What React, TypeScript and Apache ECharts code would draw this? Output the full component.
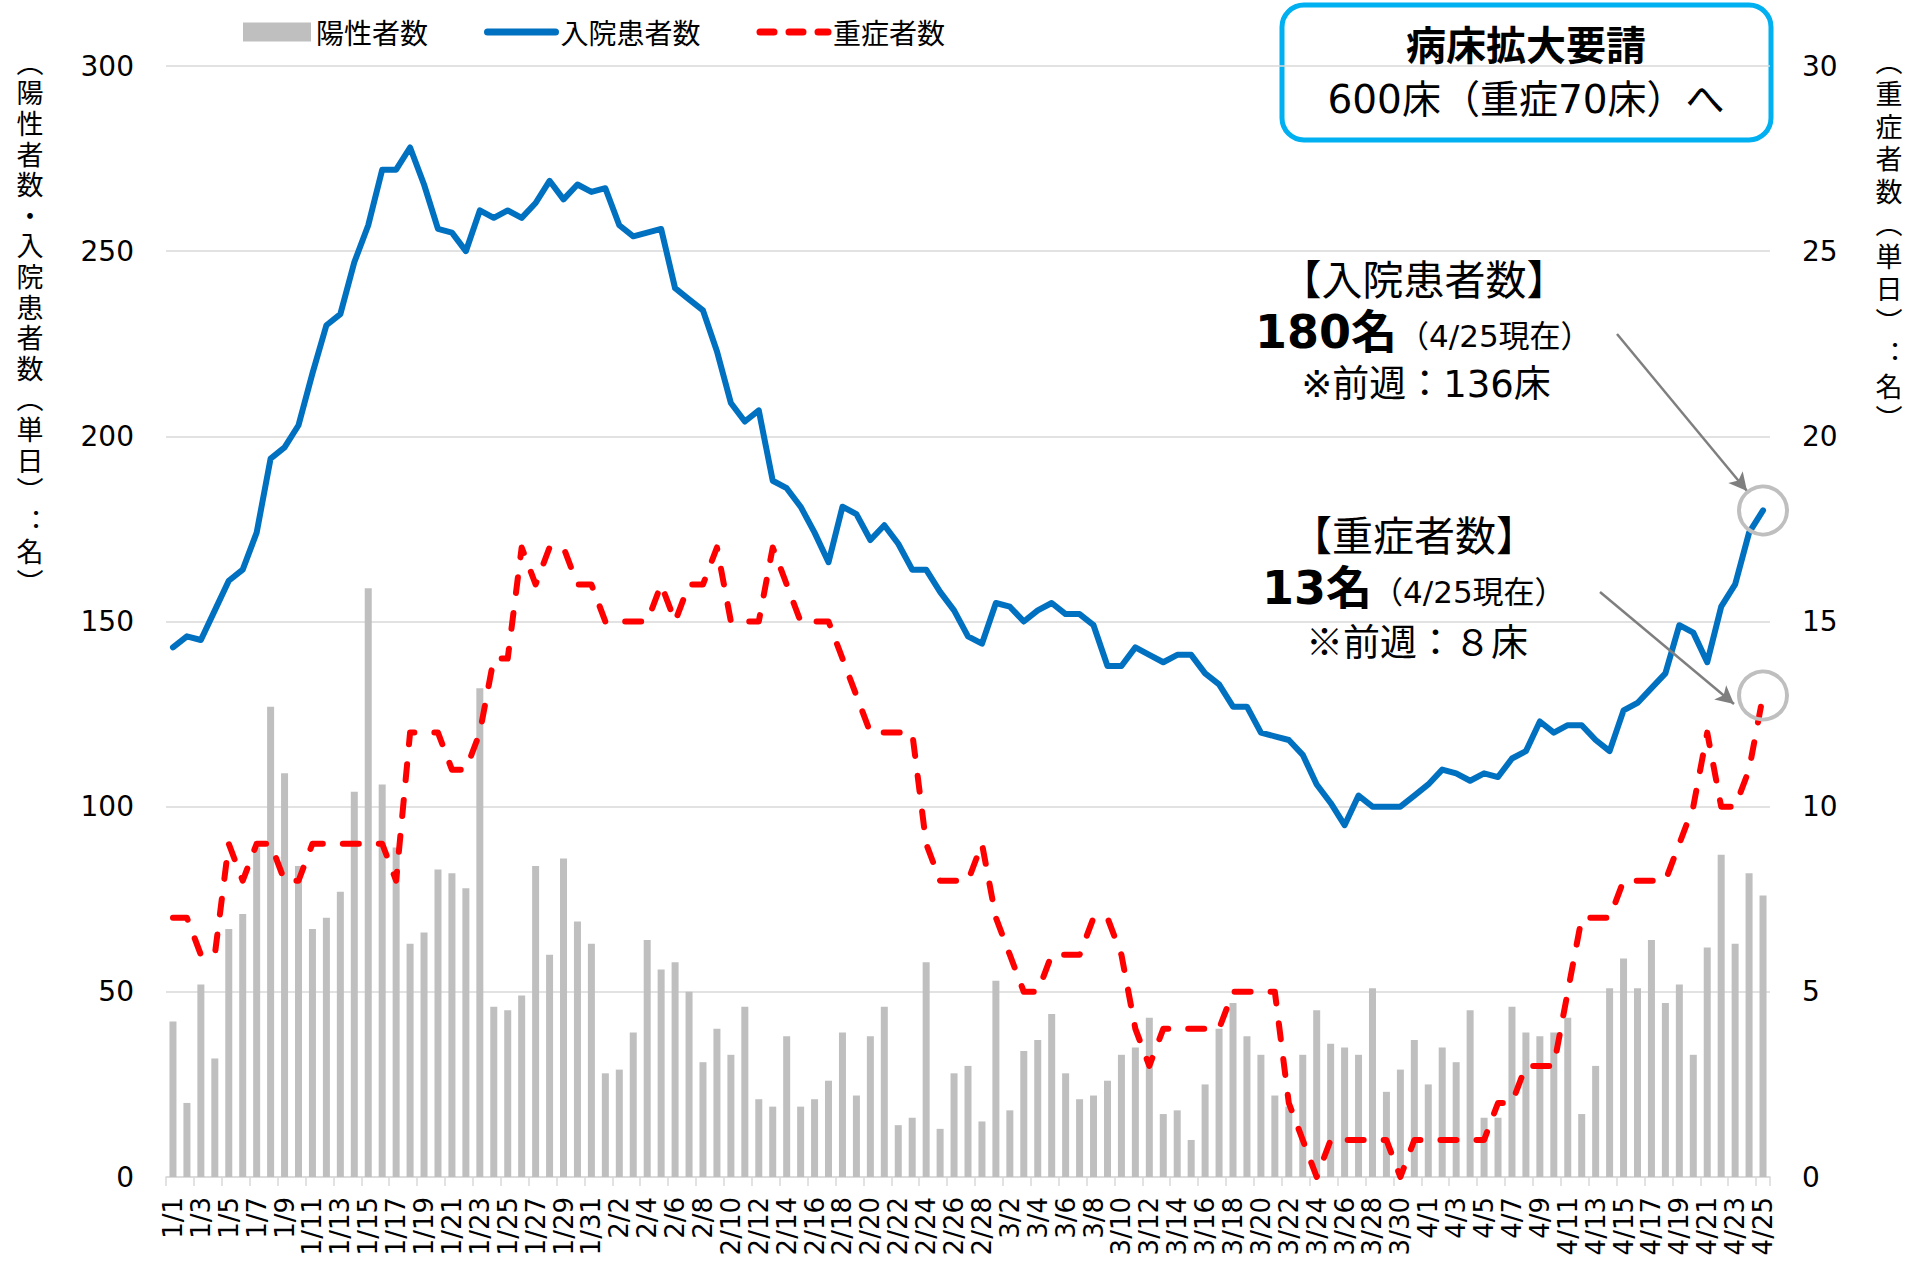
import React, { useEffect, useRef } from "react";
import * as echarts from "echarts";

const monthLengths: [number, number][] = [
  [1, 31],
  [2, 28],
  [3, 31],
  [4, 25],
];
const categories: string[] = [];
monthLengths.forEach(([m, n]) => {
  for (let d = 1; d <= n; d++) categories.push(`${m}/${d}`);
});

// 陽性者数 (daily positives)
const positives = [
  42, 20, 52, 32, 67, 71, 89, 127, 109, 84, 67, 70, 77, 104, 159, 106, 89, 63, 66, 83, 82, 78, 132, 46, 45, 49, 84, 60, 86, 69, 63,
  28, 29, 39, 64, 56, 58, 50, 31, 40, 33, 46, 21, 19, 38, 19, 21, 26, 39, 22, 38, 46, 14, 16, 58, 13, 28, 30, 15,
  53, 18, 34, 37, 44, 28, 21, 22, 26, 33, 35, 43, 17, 18, 10, 25, 40, 47, 38, 33, 22, 19, 33, 45, 36, 35, 33, 51, 23, 29, 37,
  25, 35, 31, 45, 16, 16, 46, 39, 38, 39, 43, 17, 30, 51, 59, 51, 64, 47, 52, 33, 62, 87, 63, 82, 76,
];

// 入院患者数 (hospitalized)
const hospitalized = [
  143, 146, 145, 153, 161, 164, 174, 194, 197, 203, 217, 230, 233, 247, 257, 272, 272, 278, 268, 256, 255, 250, 261, 259, 261, 259, 263, 269, 264, 268, 266,
  267, 257, 254, 255, 256, 240, 237, 234, 223, 209, 204, 207, 188, 186, 181, 174, 166, 181, 179, 172, 176, 171, 164, 164, 158, 153, 146, 144,
  155, 154, 150, 153, 155, 152, 152, 149, 138, 138, 143, 141, 139, 141, 141, 136, 133, 127, 127, 120, 119, 118, 114, 106, 101, 95, 103, 100, 100, 100, 103,
  106, 110, 109, 107, 109, 108, 113, 115, 123, 120, 122, 122, 118, 115, 126, 128, 132, 136, 149, 147, 139, 154, 160, 174, 180,
];

// 重症者数 (severe)
const severe = [
  7, 7, 6, 6, 9, 8, 9, 9, 8, 8, 9, 9, 9, 9, 9, 9, 8, 12, 12, 12, 11, 11, 12, 14, 14, 17, 16, 17, 17, 16, 16,
  15, 15, 15, 15, 16, 15, 16, 16, 17, 15, 15, 15, 17, 16, 15, 15, 15, 14, 13, 12, 12, 12, 12, 9, 8, 8, 8, 9,
  7, 6, 5, 5, 6, 6, 6, 7, 7, 6, 4, 3, 4, 4, 4, 4, 4, 5, 5, 5, 5, 2, 1, 0, 1, 1, 1, 1, 1, 0, 1,
  1, 1, 1, 1, 1, 2, 2, 3, 3, 3, 5, 7, 7, 7, 8, 8, 8, 8, 9, 10, 12, 10, 10, 11, 13,
];

const leftTicks = { min: 0, max: 300, interval: 50 };
const rightTicks = { min: 0, max: 30, interval: 5 };

const leftTitle = "︵陽性者数・入院患者数︵単日︶︓名︶";
const rightTitle = "︵重症者数︵単日︶︓名︶";

const JP = "'Noto Sans CJK JP'";
const MIX = "'DejaVu Sans', 'Noto Sans CJK JP'";

export default function App() {
  const ref = useRef<HTMLDivElement>(null);

  useEffect(() => {
    if (!ref.current) return;
    const chart = echarts.init(ref.current, null, { renderer: "svg" });
    const last = categories[categories.length - 1];

    const option: any = {
      animation: false,
      backgroundColor: "#ffffff",
      textStyle: { fontFamily: MIX },
      grid: { left: 166, right: 137, top: 66, bottom: 92 },
      legend: {
        left: 238,
        top: 13,
        itemWidth: 68,
        itemHeight: 19,
        itemGap: 56,
        textStyle: { fontSize: 28, fontFamily: JP, color: "#000" },
        data: [
          { name: "陽性者数", icon: "rect" },
          {
            name: "入院患者数",
            itemStyle: { opacity: 0 },
            lineStyle: { width: 7, color: "#0070C0", cap: "round" },
          },
          {
            name: "重症者数",
            itemStyle: { opacity: 0 },
            lineStyle: { width: 7, color: "#FF0000", type: [14, 15], cap: "round" },
          },
        ],
      },
      xAxis: {
        type: "category",
        data: categories,
        boundaryGap: true,
        axisLine: { lineStyle: { color: "#d9d9d9", width: 1.5 } },
        axisTick: { show: true, interval: 1, length: 9, lineStyle: { color: "#d9d9d9", width: 1.5 } },
        axisLabel: {
          interval: 1,
          rotate: 90,
          fontSize: 26,
          fontFamily: "DejaVu Sans",
          color: "#000",
          margin: 20,
        },
      },
      yAxis: [
        {
          type: "value",
          ...leftTicks,
          axisLine: { show: false },
          axisTick: { show: false },
          axisLabel: { fontSize: 28, fontFamily: "DejaVu Sans", color: "#000", margin: 32 },
          splitLine: { lineStyle: { color: "#d9d9d9", width: 1.5 } },
        },
        {
          type: "value",
          ...rightTicks,
          position: "right",
          axisLine: { show: false },
          axisTick: { show: false },
          axisLabel: { fontSize: 28, fontFamily: "DejaVu Sans", color: "#000", margin: 32 },
          splitLine: { show: false },
        },
      ],
      series: [
        {
          name: "陽性者数",
          type: "bar",
          data: positives,
          barWidth: 7,
          itemStyle: { color: "#BFBFBF" },
          silent: true,
          markLine: {
            silent: true,
            symbol: ["none", "arrow"],
            symbolSize: [14, 18],
            label: { show: false },
            lineStyle: { color: "#7F7F7F", width: 2.5, type: "solid" },
            data: [
              [{ x: 1617, y: 334 }, { x: 1747, y: 491 }],
              [{ x: 1600, y: 592 }, { x: 1734, y: 704 }],
            ],
          },
        },
        {
          name: "入院患者数",
          type: "line",
          data: hospitalized,
          symbol: "none",
          lineStyle: { color: "#0070C0", width: 6, cap: "round", join: "round" },
          itemStyle: { color: "#0070C0" },
          z: 4,
          markPoint: {
            silent: true,
            symbol: "circle",
            symbolSize: 48,
            label: { show: false },
            itemStyle: { color: "rgba(0,0,0,0)", borderColor: "#BFBFBF", borderWidth: 4 },
            data: [{ coord: [last, hospitalized[hospitalized.length - 1]] }],
          },
        },
        {
          name: "重症者数",
          type: "line",
          yAxisIndex: 1,
          data: severe,
          symbol: "none",
          lineStyle: { color: "#FF0000", width: 6, type: [16, 20], cap: "round", join: "round" },
          itemStyle: { color: "#FF0000" },
          z: 3,
          markPoint: {
            silent: true,
            symbol: "circle",
            symbolSize: 48,
            label: { show: false },
            itemStyle: { color: "rgba(0,0,0,0)", borderColor: "#BFBFBF", borderWidth: 4 },
            data: [{ coord: [last, severe[severe.length - 1]] }],
          },
        },
      ],
      graphic: [
        {
          type: "text",
          x: 30,
          y: 46,
          style: {
            text: leftTitle.split("").join("\n"),
            fontSize: 27,
            fontFamily: JP,
            lineHeight: 30.6,
            fill: "#000",
            align: "center",
            verticalAlign: "top",
          },
        },
        {
          type: "text",
          x: 1889,
          y: 44,
          style: {
            text: rightTitle.split("").join("\n"),
            fontSize: 27,
            fontFamily: JP,
            lineHeight: 32.5,
            fill: "#000",
            align: "center",
            verticalAlign: "top",
          },
        },
        {
          type: "rect",
          shape: { x: 1282, y: 5, width: 489, height: 135, r: 22 },
          style: { fill: "none", stroke: "#00B0F0", lineWidth: 5 },
        },
        {
          type: "text",
          x: 1526,
          y: 43,
          style: {
            text: "病床拡大要請",
            fontSize: 40,
            fontWeight: "bold",
            fontFamily: JP,
            fill: "#000",
            align: "center",
            verticalAlign: "middle",
          },
        },
        {
          type: "text",
          x: 1526,
          y: 99,
          style: {
            text: "600床（重症70床）へ",
            fontSize: 39,
            fontFamily: MIX,
            fill: "#000",
            align: "center",
            verticalAlign: "middle",
          },
        },
        {
          type: "text",
          x: 1424,
          y: 277,
          style: { text: "【入院患者数】", fontSize: 41, fontFamily: JP, fill: "#000", align: "center", verticalAlign: "middle" },
        },
        {
          type: "text",
          x: 1255,
          y: 332,
          style: { text: "180名", fontSize: 46, fontWeight: "bold", fontFamily: MIX, fill: "#000", align: "left", verticalAlign: "middle" },
        },
        {
          type: "text",
          x: 1398,
          y: 336,
          style: { text: "（4/25現在）", fontSize: 31, fontFamily: MIX, fill: "#000", align: "left", verticalAlign: "middle" },
        },
        {
          type: "text",
          x: 1426,
          y: 384,
          style: { text: "※前週：136床", fontSize: 37, fontFamily: MIX, fill: "#000", align: "center", verticalAlign: "middle" },
        },
        {
          type: "text",
          x: 1414,
          y: 533,
          style: { text: "【重症者数】", fontSize: 41, fontFamily: JP, fill: "#000", align: "center", verticalAlign: "middle" },
        },
        {
          type: "text",
          x: 1262,
          y: 588,
          style: { text: "13名", fontSize: 46, fontWeight: "bold", fontFamily: MIX, fill: "#000", align: "left", verticalAlign: "middle" },
        },
        {
          type: "text",
          x: 1372,
          y: 592,
          style: { text: "（4/25現在）", fontSize: 31, fontFamily: MIX, fill: "#000", align: "left", verticalAlign: "middle" },
        },
        {
          type: "text",
          x: 1417,
          y: 640,
          style: { text: "※前週：８床", fontSize: 37, fontFamily: JP, fill: "#000", align: "center", verticalAlign: "middle" },
        },
      ],
    };

    chart.setOption(option);
    return () => chart.dispose();
  }, []);

  return (
    <div
      ref={ref}
      style={{ position: "fixed", left: 0, top: 0, width: 1907, height: 1269, background: "#fff" }}
    />
  );
}
